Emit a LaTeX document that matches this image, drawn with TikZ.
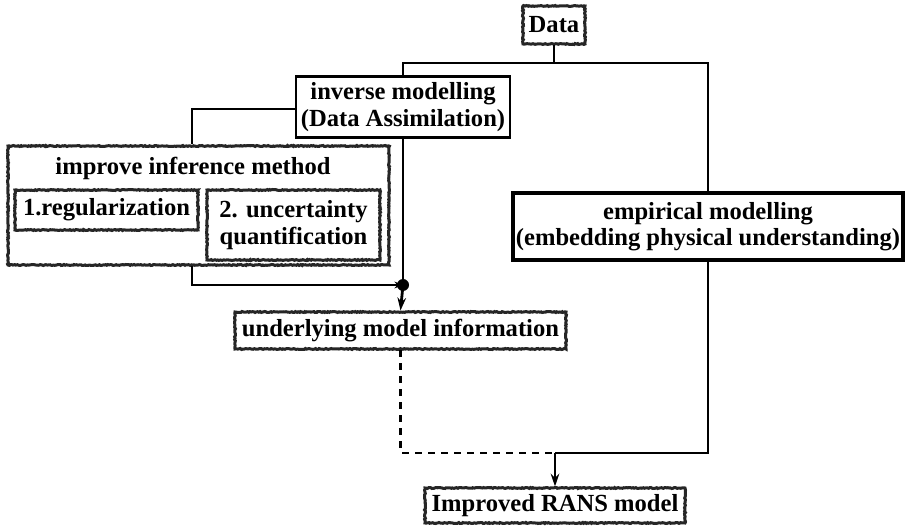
\documentclass[tikz,border=0pt]{standalone}
\usepackage{fontspec}
\setmainfont{Liberation Serif}
\usetikzlibrary{arrows.meta,positioning,calc,decorations.pathmorphing}

\begin{document}
\begin{tikzpicture}[
      x=1pt, y=-1pt,
      font=\fontsize{24.6}{26.5}\selectfont\bfseries,
      rough/.style={draw=black!85, line width=3pt, decorate,
        decoration={random steps, segment length=1.3pt, amplitude=0.5pt},
        fill=white, align=center, inner sep=0pt},
      plain/.style={draw, line width=2.6pt, fill=white, align=center, inner sep=0pt},
      link/.style={line width=2.8pt},
      thin link/.style={line width=1.6pt},
      >={Stealth[length=4.5mm,width=3mm]}
    ]
    \useasboundingbox (0,0) rectangle (906,526);

    % Data
    \node[rough, minimum width=62pt, minimum height=38pt] (data) at (554,25) {Data};

    % inverse branch
    \node[plain, minimum width=214pt, minimum height=61pt] (inv) at (403,107) {inverse modelling\\(Data Assimilation)};
    \node[rough, minimum width=381pt, minimum height=119pt] (imp) at (198.5,205.5) {};
    \node (imptitle) at (193,168) {improve inference method};
    \node[rough, minimum width=183pt, minimum height=40pt] (reg) at (106.5,210) {1.regularization};
    \node[rough, minimum width=173pt, minimum height=70pt] (unc) at (293.5,225) {2. uncertainty\\quantification};
    \node[rough, minimum width=331pt, minimum height=37pt] (und) at (400.5,330.5) {underlying model information};

    % empirical branch
    \node[plain, line width=4pt, minimum width=390pt, minimum height=67pt] (emp) at (708,226.5) {empirical modelling\\(embedding physical understanding)};

    % Result
    \node[rough, minimum width=260pt, minimum height=35pt] (rans) at (555,505.5) {Improved RANS model};

    % connectors
    \coordinate (split) at (data.south |- 0,63);
    \coordinate (dot) at (inv.south |- 0,285);
    \coordinate (join) at (rans.north |- 0,453);
    \draw[link] (data.south) -- (split);
    \draw[link] (split) -| (inv.north);
    \draw[link] (split) -| (emp.north);
    \draw[thin link] (inv.west |- 0,109) -| (imp.north -| 192,0);
    \draw[link] (inv.south) -- (dot);
    \draw[thin link, -{Stealth[length=3mm,width=2.4mm]}] (imp.south -| 192,0) |- (dot);
    \fill (dot) circle (6pt);
    \draw[link, ->] (dot) -- (und.north);
    \draw[link, dash pattern=on 7pt off 6pt] (und.south) |- (join);
    \draw[link] (emp.south) |- (join);
    \draw[link, ->] (join) -- (rans.north);
\end{tikzpicture}
\end{document}
